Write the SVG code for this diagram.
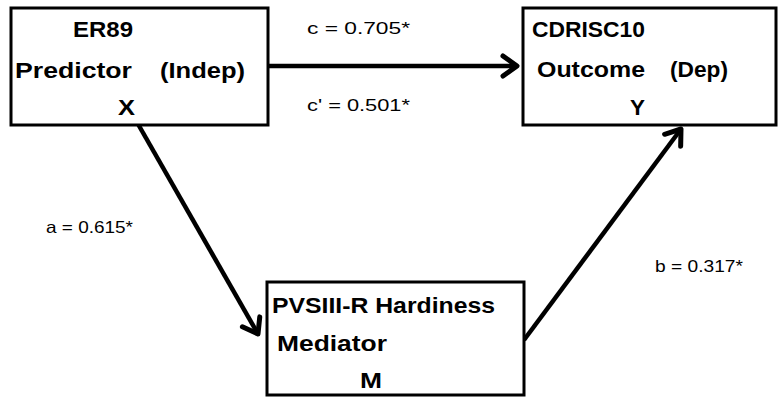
<svg xmlns="http://www.w3.org/2000/svg" width="780" height="398" viewBox="0 0 780 398">
<style>
.box{fill:#fff;stroke:#000;stroke-width:3}
.t{font-family:"Liberation Sans",Arial,sans-serif;font-weight:bold;font-size:22px;fill:#000}
.l{font-family:"Liberation Sans",Arial,sans-serif;font-size:16.5px;fill:#000}
.c{stroke:#000;stroke-width:4.5;fill:none}
</style>
<defs>
<marker id="ah" markerUnits="userSpaceOnUse" viewBox="-20 -14 24 28" refX="0" refY="0" markerWidth="24" markerHeight="28" orient="auto">
<path d="M-14,-10 L0,0 L-14,10" fill="none" stroke="#000" stroke-width="5" stroke-linecap="round" stroke-linejoin="round"/>
</marker>
</defs>
<g id="connectors">
<line class="c" x1="268" y1="66" x2="517" y2="66" marker-end="url(#ah)"/>
<line class="c" x1="138" y1="124" x2="258" y2="334" marker-end="url(#ah)"/>
<line class="c" x1="524" y1="340" x2="681" y2="129" marker-end="url(#ah)"/>
</g>
<g id="nodeX">
<rect class="box" x="11" y="8" width="257" height="117"/>
<text class="t" x="73" y="37" textLength="60" lengthAdjust="spacingAndGlyphs">ER89</text>
<text class="t" x="15" y="78" textLength="117" lengthAdjust="spacingAndGlyphs">Predictor</text>
<text class="t" x="160" y="78" textLength="85" lengthAdjust="spacingAndGlyphs">(Indep)</text>
<text class="t" x="118" y="115" textLength="17" lengthAdjust="spacingAndGlyphs">X</text>
</g>
<g id="nodeY">
<rect class="box" x="523" y="8" width="253" height="117"/>
<text class="t" x="532" y="37" textLength="113" lengthAdjust="spacingAndGlyphs">CDRISC10</text>
<text class="t" x="537" y="77" textLength="108" lengthAdjust="spacingAndGlyphs">Outcome</text>
<text class="t" x="670" y="77" textLength="58" lengthAdjust="spacingAndGlyphs">(Dep)</text>
<text class="t" x="630" y="115" textLength="15" lengthAdjust="spacingAndGlyphs">Y</text>
</g>
<g id="nodeM">
<rect class="box" x="267" y="282" width="257" height="113"/>
<text class="t" x="272" y="313" textLength="223" lengthAdjust="spacingAndGlyphs">PVSIII-R Hardiness</text>
<text class="t" x="277" y="351" textLength="110" lengthAdjust="spacingAndGlyphs">Mediator</text>
<text class="t" x="360" y="388" textLength="22" lengthAdjust="spacingAndGlyphs">M</text>
</g>
<g id="labels">
<text class="l" x="307" y="34" textLength="103" lengthAdjust="spacingAndGlyphs">c = 0.705*</text>
<text class="l" x="307" y="111" textLength="103" lengthAdjust="spacingAndGlyphs">c' = 0.501*</text>
<text class="l" x="46" y="233" textLength="87" lengthAdjust="spacingAndGlyphs">a = 0.615*</text>
<text class="l" x="655" y="272" textLength="88" lengthAdjust="spacingAndGlyphs">b = 0.317*</text>
</g>
</svg>
